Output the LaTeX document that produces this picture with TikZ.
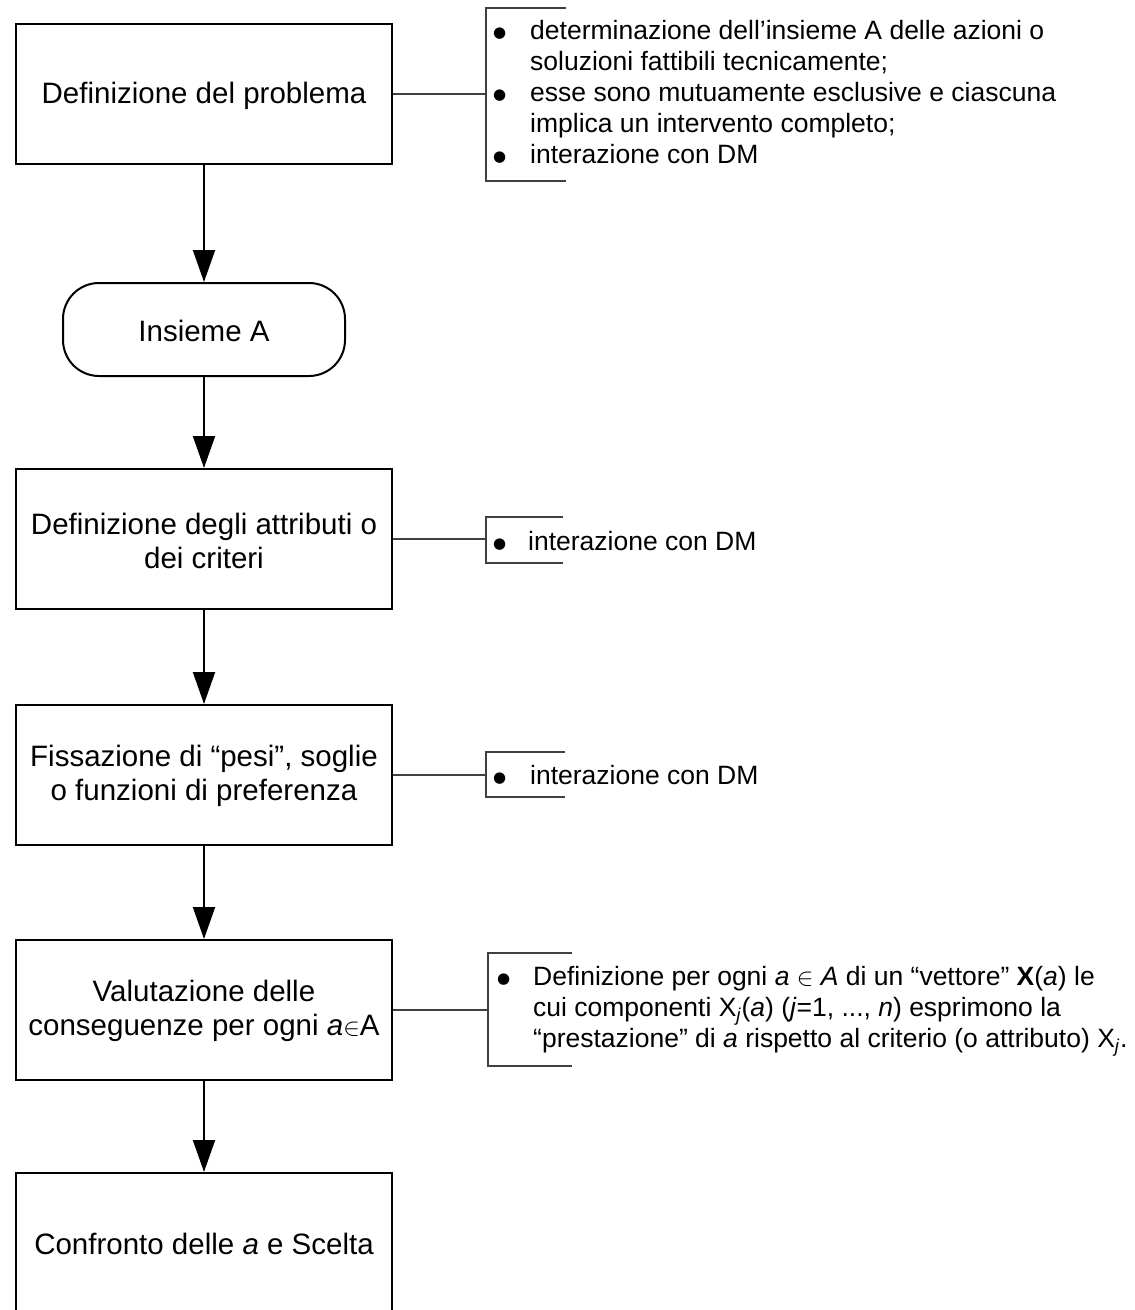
\documentclass[tikz,border=0pt]{standalone}
\usepackage{fontspec}
\setmainfont{Liberation Sans}
\newfontfamily\symf{DejaVu Sans}
\usetikzlibrary{arrows.meta}
\tikzset{
  x=1pt, y=-1pt,
  mainbox/.style={draw=black, line width=2pt, minimum width=376pt, minimum height=140pt, inner sep=0pt},
  roundbox/.style={draw=black, line width=2pt, minimum width=282pt, minimum height=93pt,
     rounded corners=36pt, inner sep=0pt},
  boxtext/.style={inner sep=0pt, align=center, font=\fontsize{29.5}{34}\selectfont},
  flow/.style={line width=2pt, -{Triangle[width=22pt,length=32pt]}},
  annline/.style={line width=1.1pt, draw=black!75},
  anntext/.style={anchor=west, inner sep=0pt, align=left, font=\fontsize{26.5}{31}\selectfont},
}
\newcommand{\bigbul}{\raisebox{2pt}{{\symf\fontsize{15}{31}\selectfont ●}}}
\newcommand{\bul}{\makebox[37pt][l]{\bigbul}}
\newcommand{\nobul}{\hspace*{37pt}}
\begin{document}
\begin{tikzpicture}
\useasboundingbox (0,0) rectangle (1135,1310);

% main boxes
\node[mainbox] (b1) at (204,94) {};
\node[boxtext] (b1t) at (204,96) {Definizione del problema};
\node[roundbox] (b2) at (204,329.5) {};
\node[boxtext] (b2t) at (204,331) {Insieme A};
\node[mainbox] (b3) at (204,539) {};
\node[boxtext] (b3t) at (204,541) {Definizione degli attributi o\\dei criteri};
\node[mainbox] (b4) at (204,775) {};
\node[boxtext] (b4t) at (204,776) {Fissazione di “pesi”, soglie\\o funzioni di preferenza};
\node[mainbox] (b5) at (204,1010) {};
\node[boxtext] (b5t) at (204,1011) {Valutazione delle\\conseguenze per ogni \textit{a}$\in$A};
\node[mainbox, minimum height=150pt] (b6) at (204,1248) {};
\node[boxtext] (b6t) at (204,1244) {Confronto delle \textit{a} e Scelta};

% flow arrows
\draw[flow] (b1.south) -- (b2.north);
\draw[flow] (b2.south) -- (b3.north);
\draw[flow] (b3.south) -- (b4.north);
\draw[flow] (b4.south) -- (b5.north);
\draw[flow] (b5.south) -- (b6.north);

% annotation 1
\coordinate (a1) at (486,94);
\draw[annline] (b1.east) -- (a1);
\draw[annline] (566,8) -- (486,8) -- (486,181) -- (566,181);
\node[anntext] (t1) at (493,95) {%
\begin{tabular}{@{}l@{}}
\bul determinazione dell’insieme A delle azioni o\\
\nobul soluzioni fattibili tecnicamente;\\
\bul esse sono mutuamente esclusive e ciascuna\\
\nobul implica un intervento completo;\\
\bul interazione con DM
\end{tabular}};

% annotation 2
\coordinate (a2) at (486,539);
\draw[annline] (b3.east) -- (a2);
\draw[annline] (563,517) -- (486,517) -- (486,563) -- (563,563);
\node[anntext] (t2) at (493,541) {\makebox[35pt][l]{\bigbul}interazione con DM};

% annotation 3
\coordinate (a3) at (486,775);
\draw[annline] (b4.east) -- (a3);
\draw[annline] (565,752) -- (486,752) -- (486,797) -- (565,797);
\node[anntext] (t3) at (493,775) {\bul interazione con DM};

% annotation 4
\coordinate (a4) at (488,1010);
\draw[annline] (b5.east) -- (a4);
\draw[annline] (572,953) -- (488,953) -- (488,1066) -- (572,1066);
\node[anntext] (t4) at (497,1010) {%
\begin{tabular}{@{}l@{}}
\makebox[36pt][l]{\bigbul}Definizione per ogni \textit{a} $\in$ \textit{A} di un “vettore” \textbf{X}(\textit{a}) le\\
\hspace*{36pt}cui componenti X\textsubscript{\textit{j}}(\textit{a}) (\textit{j}=1, ..., \textit{n}) esprimono la\\
\hspace*{36pt}“prestazione” di \textit{a} rispetto al criterio (o attributo) X\textsubscript{\textit{j}}.
\end{tabular}};
\end{tikzpicture}
\end{document}
